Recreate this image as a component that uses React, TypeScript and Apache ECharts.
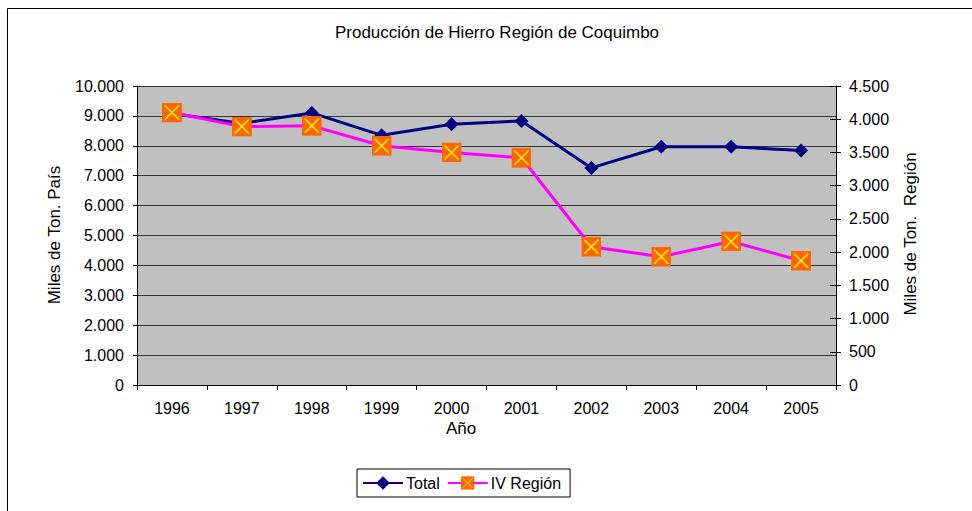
import React, { useEffect, useRef } from "react";
import * as echarts from "echarts";

const years = ["1996", "1997", "1998", "1999", "2000", "2001", "2002", "2003", "2004", "2005"];
const totalPais = [9080, 8750, 9100, 8350, 8720, 8830, 7260, 7970, 7970, 7840];
const ivRegion = [4100, 3890, 3900, 3600, 3500, 3420, 2080, 1930, 2160, 1870];
const leftTicks = { min: 0, max: 10000, interval: 1000 };
const rightTicks = { min: 0, max: 4500, interval: 500 };

const FONT = "Liberation Sans";

const fmt = (v: number) => {
  const s = String(Math.round(v));
  return s.replace(/\B(?=(\d{3})+(?!\d))/g, ".");
};

const squareX =
  "image://data:image/svg+xml;charset=utf-8," +
  encodeURIComponent(
    "<svg xmlns='http://www.w3.org/2000/svg' width='20' height='20' viewBox='0 0 20 20'>" +
      "<rect x='0' y='0' width='20' height='20' fill='#FF6600'/>" +
      "<path d='M3 3 L17 17 M17 3 L3 17' stroke='#FFFF00' stroke-width='1.4' fill='none'/>" +
      "</svg>"
  );

export default function App() {
  const ref = useRef<HTMLDivElement>(null);
  useEffect(() => {
    if (!ref.current) return;
    const chart = echarts.init(ref.current, undefined, { renderer: "svg" });
    chart.setOption({
      animation: false,
      backgroundColor: "#FFFFFF",
      textStyle: { fontFamily: FONT },
      grid: {
        left: 137,
        right: 136,
        top: 86,
        bottom: 126,
        show: true,
        backgroundColor: "#C0C0C0",
        borderWidth: 0,
      },
      legend: {
        left: 357,
        top: 469,
        orient: "horizontal",
        itemWidth: 40,
        itemHeight: 17,
        itemGap: 7,
        padding: [6, 9, 6, 5],
        borderColor: "#000000",
        borderWidth: 1,
        backgroundColor: "#FFFFFF",
        textStyle: { fontFamily: FONT, fontSize: 16, color: "#000000", padding: [0, 0, 0, -2] },
        data: ["Total", "IV Región"],
      },
      xAxis: {
        type: "category",
        data: years,
        boundaryGap: true,
        axisLine: { show: true, lineStyle: { color: "#000000", width: 1 } },
        axisTick: { show: true, interval: 0, alignWithLabel: false, length: 5, lineStyle: { color: "#000000" } },
        axisLabel: { interval: 0, margin: 15, color: "#000000", fontFamily: FONT, fontSize: 16 },
        splitLine: { show: false },
      },
      yAxis: [
        {
          type: "value",
          position: "left",
          min: leftTicks.min,
          max: leftTicks.max,
          interval: leftTicks.interval,
          axisLine: { show: true, lineStyle: { color: "#000000", width: 1 } },
          axisTick: { show: true, length: 4, lineStyle: { color: "#000000" } },
          axisLabel: { margin: 13, color: "#000000", fontFamily: FONT, fontSize: 16, formatter: fmt },
          splitLine: { show: true, lineStyle: { color: "#333333", width: 1 } },
        },
        {
          type: "value",
          position: "right",
          min: rightTicks.min,
          max: rightTicks.max,
          interval: rightTicks.interval,
          axisLine: { show: true, lineStyle: { color: "#000000", width: 1 } },
          axisTick: { show: true, length: 5, lineStyle: { color: "#000000" } },
          axisLabel: { margin: 13, color: "#000000", fontFamily: FONT, fontSize: 16, formatter: fmt },
          splitLine: { show: false },
        },
        {
          type: "value",
          position: "right",
          min: rightTicks.min,
          max: rightTicks.max,
          interval: rightTicks.interval,
          axisLine: { show: false },
          axisTick: { show: true, inside: true, length: 6, lineStyle: { color: "#000000" } },
          axisLabel: { show: false },
          splitLine: { show: false },
        },
      ],
      series: [
        {
          name: "Total",
          type: "line",
          yAxisIndex: 0,
          data: totalPais,
          symbol: "diamond",
          symbolSize: 14,
          showAllSymbol: true,
          lineStyle: { color: "#000080", width: 3 },
          itemStyle: { color: "#000080" },
          z: 2,
        },
        {
          name: "IV Región",
          type: "line",
          yAxisIndex: 1,
          data: ivRegion,
          symbol: squareX,
          symbolSize: 20,
          showAllSymbol: true,
          lineStyle: { color: "#FF00FF", width: 3 },
          itemStyle: { color: "#FF6600" },
          z: 3,
        },
      ],
      graphic: [
        {
          type: "rect",
          silent: true,
          shape: { x: 7.5, y: 8.5, width: 1100, height: 1100 },
          style: { fill: "none", stroke: "#000000", lineWidth: 1 },
          z: 100,
        },
        {
          type: "text",
          x: 497,
          y: 32,
          style: {
            text: "Producción de Hierro Región de Coquimbo",
            fontFamily: FONT,
            fontSize: 17,
            fill: "#000000",
            align: "center",
            verticalAlign: "middle",
          },
        },
        {
          type: "text",
          x: 54,
          y: 235,
          rotation: Math.PI / 2,
          style: {
            text: "Miles de Ton. País",
            fontFamily: FONT,
            fontSize: 17,
            fill: "#000000",
            align: "center",
            verticalAlign: "middle",
          },
        },
        {
          type: "text",
          x: 910,
          y: 234,
          rotation: Math.PI / 2,
          style: {
            text: "Miles de Ton.  Región",
            fontFamily: FONT,
            fontSize: 17,
            fill: "#000000",
            align: "center",
            verticalAlign: "middle",
          },
        },
        {
          type: "text",
          x: 461,
          y: 428,
          style: {
            text: "Año",
            fontFamily: FONT,
            fontSize: 17,
            fill: "#000000",
            align: "center",
            verticalAlign: "middle",
          },
        },
      ],
    });
    return () => chart.dispose();
  }, []);
  return (
    <div
      ref={ref}
      style={{ position: "fixed", left: 0, top: 0, width: 972, height: 511 }}
    />
  );
}
